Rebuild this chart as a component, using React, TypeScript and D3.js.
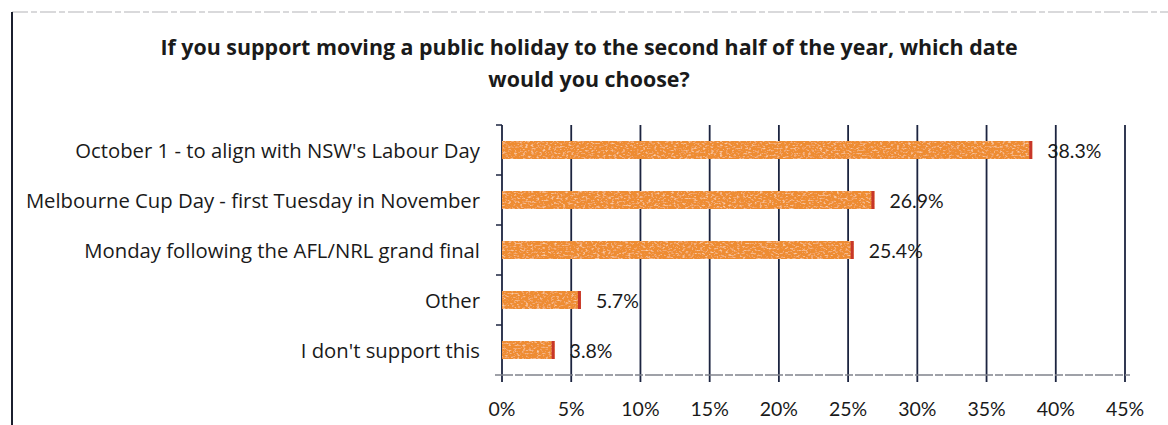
import React from "react";
import * as d3 from "d3";

const categories = [
  "October 1 - to align with NSW's Labour Day",
  "Melbourne Cup Day - first Tuesday in November",
  "Monday following the AFL/NRL grand final",
  "Other",
  "I don't support this",
];
const values = [38.3, 26.9, 25.4, 5.7, 3.8];
const valueLabels = ["38.3%", "26.9%", "25.4%", "5.7%", "3.8%"];
const xTicks = [0, 5, 10, 15, 20, 25, 30, 35, 40, 45];
const titleLines = [
  "If you support moving a public holiday to the second half of the year, which date",
  "would you choose?",
];

const W = 1168;
const H = 425;
const FONT = "'Open Sans', Lato, sans-serif";
const NUMFONT = "Lato, 'Open Sans', sans-serif";

export default function App() {
  const x = d3.scaleLinear().domain([0, 45]).range([502, 1125]);
  const y = d3.scaleBand<string>().domain(categories).range([125, 375]).paddingInner(0.64).paddingOuter(0.32);
  const band = d3.scaleBand<string>().domain(categories).range([125, 375]);

  return (
    <svg
      width={W}
      height={H}
      style={{ position: "absolute", left: 0, top: 0, background: "#fff" }}
    >
      <defs>
        <filter id="grain" x="0" y="0" width="100%" height="100%">
          <feTurbulence type="fractalNoise" baseFrequency="0.35 0.6" numOctaves={2} seed={3} result="noise" />
          <feColorMatrix
            in="noise"
            type="matrix"
            values="0 0 0 0 1  0 0 0 0 0.78  0 0 0 0 0.55  0 0 0 2.2 -1.15"
            result="spots"
          />
          <feComposite in="spots" in2="SourceGraphic" operator="in" result="clipped" />
          <feMerge>
            <feMergeNode in="SourceGraphic" />
            <feMergeNode in="clipped" />
          </feMerge>
        </filter>
      </defs>

      {/* frame */}
      <line x1={12} y1={12} x2={W} y2={12} stroke="#b4b4b8" strokeWidth={1.2} strokeDasharray="16 3 6 3" />
      <line x1={12} y1={12} x2={12} y2={H} stroke="#1b1f2e" strokeWidth={2} />

      {/* title */}
      {titleLines.map((t, i) => (
        <text
          key={i}
          x={589}
          y={55 + i * 32}
          textAnchor="middle"
          fontFamily={FONT}
          fontWeight="bold"
          fontSize={21.4}
          fill="#1a1a1a"
        >
          {t}
        </text>
      ))}

      {/* gridlines */}
      {xTicks.map((t) => (
        <line key={t} x1={x(t)} x2={x(t)} y1={125} y2={382} stroke="#1c2440" strokeWidth={1.8} />
      ))}
      {/* x axis line */}
      <line x1={495} x2={1130} y1={375} y2={375} stroke="#80838c" strokeWidth={1.3} strokeDasharray="18 2 8 2" />
      {/* y axis ticks */}
      {categories.map((c) => (
        <line key={c} x1={496} x2={502} y1={band(c)!} y2={band(c)!} stroke="#1c2440" strokeWidth={1.5} />
      ))}

      {/* bars */}
      {categories.map((c, i) => (
        <g key={c}>
          <rect
            x={x(0)}
            y={y(c)!}
            width={x(values[i]) - x(0)}
            height={y.bandwidth()}
            fill="#EE8C33"
            filter="url(#grain)"
          />
          <rect x={x(values[i]) - 3} y={y(c)!} width={3} height={y.bandwidth()} fill="#C7362A" />
          <text
            x={x(values[i]) + 15}
            y={y(c)! + y.bandwidth() / 2}
            dominantBaseline="central"
            fontFamily={NUMFONT}
            fontSize={19.5}
            fill="#1a1a1a"
          >
            {valueLabels[i]}
          </text>
          <text
            x={480}
            y={band(c)! + band.bandwidth() / 2}
            dominantBaseline="central"
            textAnchor="end"
            fontFamily={FONT}
            fontSize={20.3}
            fill="#1a1a1a"
          >
            {c}
          </text>
        </g>
      ))}

      {/* x tick labels */}
      {xTicks.map((t) => (
        <text
          key={t}
          x={x(t)}
          y={408}
          textAnchor="middle"
          dominantBaseline="central"
          fontFamily={NUMFONT}
          fontSize={19.5}
          fill="#1a1a1a"
        >
          {`${t}%`}
        </text>
      ))}
    </svg>
  );
}
